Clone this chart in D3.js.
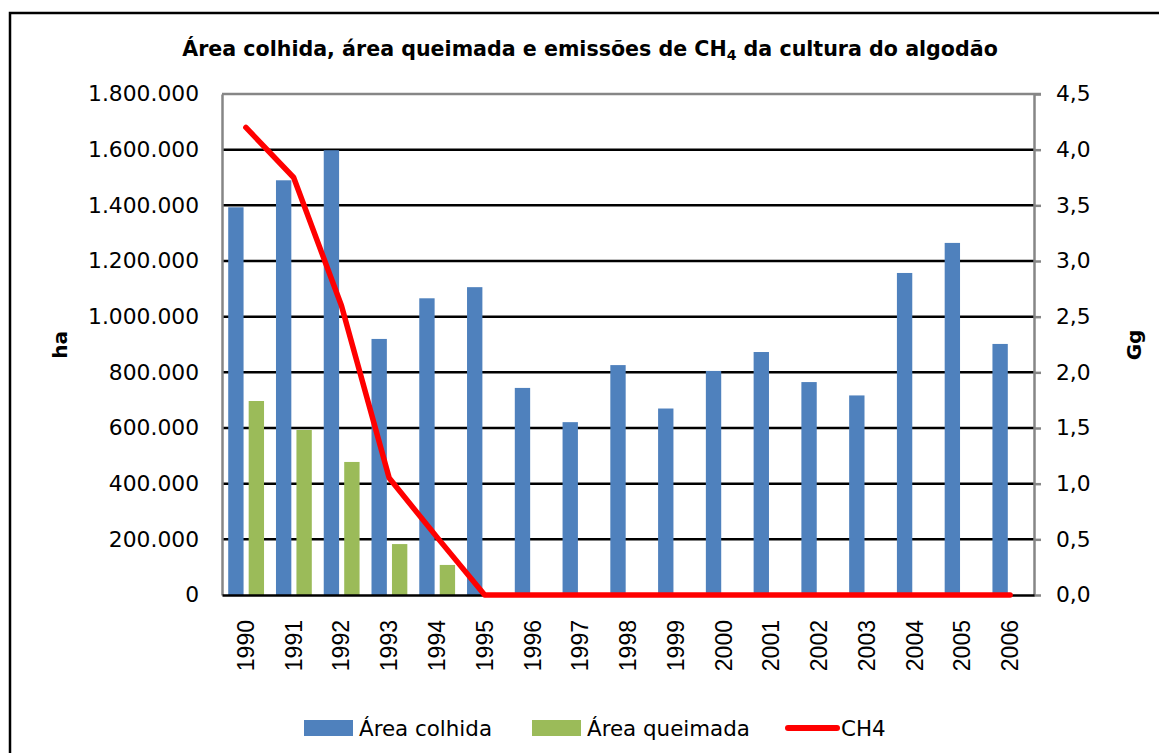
<!DOCTYPE html>
<html>
<head>
<meta charset="utf-8">
<script src="https://cdn.jsdelivr.net/npm/d3@7"></script>
<style>
  body { margin: 0; background: #fff; }
  svg { display: block; }
  text { font-family: "DejaVu Sans", sans-serif; fill: #000; }
</style>
</head>
<body>
<svg id="chart" width="1159" height="753"></svg>
<script>
// data
const years = ["1990","1991","1992","1993","1994","1995","1996","1997","1998","1999","2000","2001","2002","2003","2004","2005","2006"];
const areaColhida = [1393000, 1490000, 1598000, 920000, 1066000, 1106000, 744000, 621000, 826000, 670000, 805000, 873000, 765000, 717000, 1157000, 1265000, 902000];
const areaQueimada = [697000, 593000, 478000, 183000, 108000, 0, 0, 0, 0, 0, 0, 0, 0, 0, 0, 0, 0];
const ch4 = [4.20, 3.75, 2.60, 1.05, 0.52, 0, 0, 0, 0, 0, 0, 0, 0, 0, 0, 0, 0];
const leftTicks = [0, 200000, 400000, 600000, 800000, 1000000, 1200000, 1400000, 1600000, 1800000];
const rightTicks = [0, 0.5, 1, 1.5, 2, 2.5, 3, 3.5, 4, 4.5];

const svg = d3.select("#chart");

const margin = { top: 94, right: 125, bottom: 158, left: 222 };
const width = 1159 - margin.left - margin.right;   // 812
const height = 753 - margin.top - margin.bottom;   // 501

// outer border (runs off the right/bottom edge like the original)
svg.append("rect")
    .attr("x", 10).attr("y", 13)
    .attr("width", 1200).attr("height", 800)
    .attr("fill", "none")
    .attr("stroke", "#000")
    .attr("stroke-width", 2.5);

// title
const title = svg.append("text")
    .attr("x", 590).attr("y", 56)
    .attr("text-anchor", "middle")
    .style("font-size", "20.6px")
    .style("font-weight", "bold");
title.append("tspan").text("Área colhida, área queimada e emissões de CH");
title.append("tspan").attr("dy", 4).style("font-size", "14px").text("4");
title.append("tspan").attr("dy", -4).text(" da cultura do algodão");

const g = svg.append("g").attr("transform", "translate(" + margin.left + "," + margin.top + ")");

const x = d3.scaleBand().domain(years).range([0, width]).padding(0);
const bw = x.bandwidth();
const xs = d3.scaleBand().domain(["colhida", "queimada"])
    .range([0.13 * bw, 0.88 * bw]).paddingInner(0.25);

const yL = d3.scaleLinear().domain([0, 1800000]).range([height, 0]);
const yR = d3.scaleLinear().domain([0, 4.5]).range([height, 0]);

const ptBR = d3.formatLocale({ decimal: ",", thousands: ".", grouping: [3], currency: ["", ""] });
const fmtL = ptBR.format(",.0f");
const fmtR = ptBR.format(".1f");

// gridlines
g.append("g")
    .selectAll("line")
    .data(leftTicks.filter(d => d > 0 && d < 1800000))
    .enter().append("line")
    .attr("x1", 0).attr("x2", width)
    .attr("y1", d => yL(d)).attr("y2", d => yL(d))
    .attr("stroke", "#000").attr("stroke-width", 2.5);

// bars
const barData = years.map((yr, i) => ({ year: yr, colhida: areaColhida[i], queimada: areaQueimada[i] }));

g.selectAll(".bar-c")
    .data(barData)
    .enter().append("rect")
    .attr("class", "bar-c")
    .attr("x", d => x(d.year) + xs("colhida"))
    .attr("y", d => yL(d.colhida))
    .attr("width", xs.bandwidth())
    .attr("height", d => height - yL(d.colhida))
    .attr("fill", "#4F81BD");

g.selectAll(".bar-q")
    .data(barData.filter(d => d.queimada > 0))
    .enter().append("rect")
    .attr("class", "bar-q")
    .attr("x", d => x(d.year) + xs("queimada"))
    .attr("y", d => yL(d.queimada))
    .attr("width", xs.bandwidth())
    .attr("height", d => height - yL(d.queimada))
    .attr("fill", "#9BBB59");

// top border of plot area
g.append("line")
    .attr("x1", 0).attr("x2", width + 7)
    .attr("y1", 0).attr("y2", 0)
    .attr("stroke", "#868686").attr("stroke-width", 2.5);

// left axis
const axL = g.append("g").call(d3.axisLeft(yL).tickValues(leftTicks).tickFormat(fmtL).tickSize(0).tickPadding(23));
axL.select(".domain").attr("stroke", "#868686").attr("stroke-width", 2.5);
axL.selectAll("text").style("font-size", "21.8px").style("font-family", "'DejaVu Sans', sans-serif");

// right axis
const axR = g.append("g").attr("transform", "translate(" + width + ",0)")
    .call(d3.axisRight(yR).tickValues(rightTicks).tickFormat(fmtR).tickSize(7).tickSizeOuter(0).tickPadding(15));
axR.select(".domain").attr("stroke", "#868686").attr("stroke-width", 2.5);
axR.selectAll(".tick line").attr("stroke", "#868686").attr("stroke-width", 2.5);
axR.selectAll("text").style("font-size", "21.8px").style("font-family", "'DejaVu Sans', sans-serif");

// bottom axis
const axB = g.append("g").attr("transform", "translate(0," + height + ")")
    .call(d3.axisBottom(x).tickSize(0).tickPadding(0));
axB.select(".domain").attr("stroke", "#000").attr("stroke-width", 2.5);
axB.selectAll("text")
    .attr("transform", "rotate(-90)")
    .attr("x", -25).attr("y", 0).attr("dy", "0.35em")
    .attr("text-anchor", "end")
    .style("font-size", "23px")
    .style("font-family", "'Liberation Sans', Arial, sans-serif");

// CH4 line
const line = d3.line()
    .x((d, i) => x(years[i]) + bw / 2)
    .y(d => yR(d));

g.append("path")
    .datum(ch4)
    .attr("d", line)
    .attr("fill", "none")
    .attr("stroke", "#FF0000")
    .attr("stroke-width", 5.5)
    .attr("stroke-linejoin", "round")
    .attr("stroke-linecap", "round");

// axis titles
svg.append("text")
    .attr("transform", "translate(67,345) rotate(-90)")
    .attr("text-anchor", "middle")
    .style("font-size", "20px").style("font-weight", "bold")
    .text("ha");

svg.append("text")
    .attr("transform", "translate(1141,345) rotate(-90)")
    .attr("text-anchor", "middle")
    .style("font-size", "20px").style("font-weight", "bold")
    .text("Gg");

// legend
const legend = svg.append("g").attr("transform", "translate(0,728)");
const legItems = [
    { label: "Área colhida", type: "rect", color: "#4F81BD", x: 304 },
    { label: "Área queimada", type: "rect", color: "#9BBB59", x: 532 },
    { label: "CH4", type: "line", color: "#FF0000", x: 786 }
];
legItems.forEach(it => {
    if (it.type === "rect") {
        legend.append("rect")
            .attr("x", it.x).attr("y", -8)
            .attr("width", 49).attr("height", 16)
            .attr("fill", it.color);
    } else {
        legend.append("line")
            .attr("x1", it.x + 2).attr("x2", it.x + 51)
            .attr("y1", 0).attr("y2", 0)
            .attr("stroke", it.color).attr("stroke-width", 6)
            .attr("stroke-linecap", "round");
    }
    legend.append("text")
        .attr("x", it.x + 55).attr("y", 0).attr("dy", "0.35em")
        .style("font-size", "21.4px")
        .text(it.label);
});
</script>
</body>
</html>
